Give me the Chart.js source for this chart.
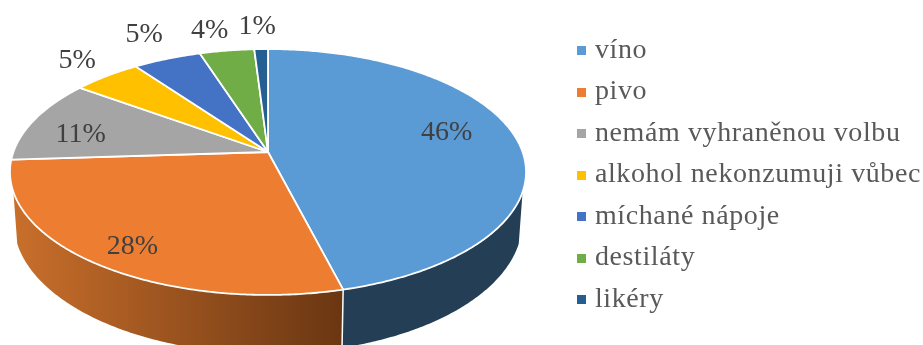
<!DOCTYPE html>
<html lang="cs">
<head>
<meta charset="utf-8">
<title>Oblíbený alkohol</title>
<style>
  html, body { margin: 0; padding: 0; background: #fff; }
  canvas { display: block; }
</style>
<script src="https://cdn.jsdelivr.net/npm/chart.js@4"></script>
</head>
<body>
<canvas id="pie" width="923" height="345"></canvas>
<script>
// Drink preferences, percent of respondents
const categories = ['víno', 'pivo', 'nemám vyhraněnou volbu', 'alkohol nekonzumuji vůbec', 'míchané nápoje', 'destiláty', 'likéry'];
const shares = [46, 28, 11, 5, 5, 4, 1];
const sliceColors = ['#5B9BD5', '#ED7D31', '#A5A5A5', '#FFC000', '#4472C4', '#70AD47', '#255E91'];

// Side wall shades, left and right end of the horizontal gradient
const wallShades = [['#243F55', '#243F55'], ['#C96F2B', '#6A3612']];

// Value label placement: radial factor on the disc plus a small pixel nudge
const labelRadii = [0.75, 0.75, 0.75, 1.15, 1.15, 1.15, 1.15];
const labelNudges = [[-8, -8], [-11, 14], [-10, 7], [-8, -5], [-10, -12], [-12, -7], [-3, -9]];

// Perspective view of the pie disc
const view = { cx: 268, cy: 152, a: 254.6, b: 119.7, k: 0.1626, depth: 49, shrink: 0.985 };
const wallFrom = 18.5 * Math.PI / 180;
const wallTo = 161.5 * Math.PI / 180;

function project(angle, r) {
  const u = r * Math.cos(angle);
  const v = r * Math.sin(angle);
  const d = 1 - view.k * v;
  return { x: view.cx + view.a * u / d, y: view.cy + view.b * v / d, d };
}

function sweep(from, to) {
  const steps = Math.max(2, Math.ceil((to - from) / 0.01));
  const out = [];
  for (let i = 0; i <= steps; i++) out.push(from + (to - from) * i / steps);
  return out;
}

// Legend swatch: the square sits in the right part of a wider transparent tile,
// which tightens the gap between swatch and text
function swatch(color) {
  const tile = document.createElement('canvas');
  tile.width = 14;
  tile.height = 9;
  const c = tile.getContext('2d');
  c.fillStyle = color;
  c.fillRect(5, 0, 9, 9);
  return tile;
}

const tiltedPie = {
  id: 'tiltedPie',
  beforeUpdate(chart) { chart.ctx.letterSpacing = '0.6px'; },
  beforeDraw(chart) { chart.ctx.letterSpacing = '0.6px'; },
  // The disc is painted below from the arcs' own angles
  beforeDatasetDraw() { return false; },
  afterDatasetsDraw(chart) {
    const ctx = chart.ctx;
    const arcs = chart.getDatasetMeta(0).data;
    ctx.save();
    ctx.letterSpacing = '0px';
    ctx.lineJoin = 'round';

    // Front wall of the pie
    arcs.forEach((arc, i) => {
      const from = Math.max(arc.startAngle, wallFrom);
      const to = Math.min(arc.endAngle, wallTo);
      if (to <= from || !wallShades[i]) return;
      const top = sweep(from, to).map(t => project(t, 1));
      const bottom = top.map(p => ({
        x: view.cx + (p.x - view.cx) * view.shrink,
        y: p.y + view.depth / p.d
      })).reverse();
      const xs = top.map(p => p.x);
      const grad = ctx.createLinearGradient(Math.min(...xs), 0, Math.max(...xs), 0);
      grad.addColorStop(0, wallShades[i][0]);
      grad.addColorStop(1, wallShades[i][1]);
      ctx.beginPath();
      top.concat(bottom).forEach((p, n) => n ? ctx.lineTo(p.x, p.y) : ctx.moveTo(p.x, p.y));
      ctx.closePath();
      ctx.fillStyle = grad;
      ctx.fill();
    });

    // Seam between the two visible wall pieces
    const seam = project(arcs[0].endAngle, 1);
    ctx.beginPath();
    ctx.moveTo(seam.x, seam.y);
    ctx.lineTo(view.cx + (seam.x - view.cx) * view.shrink, seam.y + view.depth / seam.d);
    ctx.strokeStyle = '#fff';
    ctx.lineWidth = 1.5;
    ctx.stroke();

    // Top face
    arcs.forEach((arc, i) => {
      ctx.beginPath();
      ctx.moveTo(view.cx, view.cy);
      sweep(arc.startAngle, arc.endAngle).forEach(t => {
        const p = project(t, 1);
        ctx.lineTo(p.x, p.y);
      });
      ctx.closePath();
      ctx.fillStyle = sliceColors[i];
      ctx.fill();
      ctx.strokeStyle = '#fff';
      ctx.lineWidth = 1.8;
      ctx.stroke();
    });

    // Value labels
    ctx.font = '28px "Liberation Serif"';
    ctx.fillStyle = '#404040';
    ctx.textAlign = 'center';
    ctx.textBaseline = 'middle';
    arcs.forEach((arc, i) => {
      const p = project((arc.startAngle + arc.endAngle) / 2, labelRadii[i]);
      ctx.fillText(shares[i] + '%', p.x + labelNudges[i][0], p.y + labelNudges[i][1]);
    });
    ctx.restore();
  }
};

new Chart(document.getElementById('pie'), {
  type: 'pie',
  data: {
    labels: categories,
    datasets: [{ data: shares, backgroundColor: sliceColors, borderWidth: 0 }]
  },
  plugins: [tiltedPie],
  options: {
    responsive: false,
    animation: false,
    layout: { padding: { top: 5, right: -8 } },
    plugins: {
      tooltip: { enabled: false },
      legend: {
        position: 'right',
        align: 'center',
        labels: {
          boxWidth: 4,
          boxHeight: 9,
          padding: 13.5,
          usePointStyle: true,
          color: '#595959',
          font: { family: '"Liberation Serif"', size: 28 },
          generateLabels(chart) {
            return Chart.overrides.pie.plugins.legend.labels.generateLabels(chart)
              .map((item, i) => ({ ...item, pointStyle: swatch(sliceColors[i]) }));
          }
        }
      }
    }
  }
});
</script>
</body>
</html>
